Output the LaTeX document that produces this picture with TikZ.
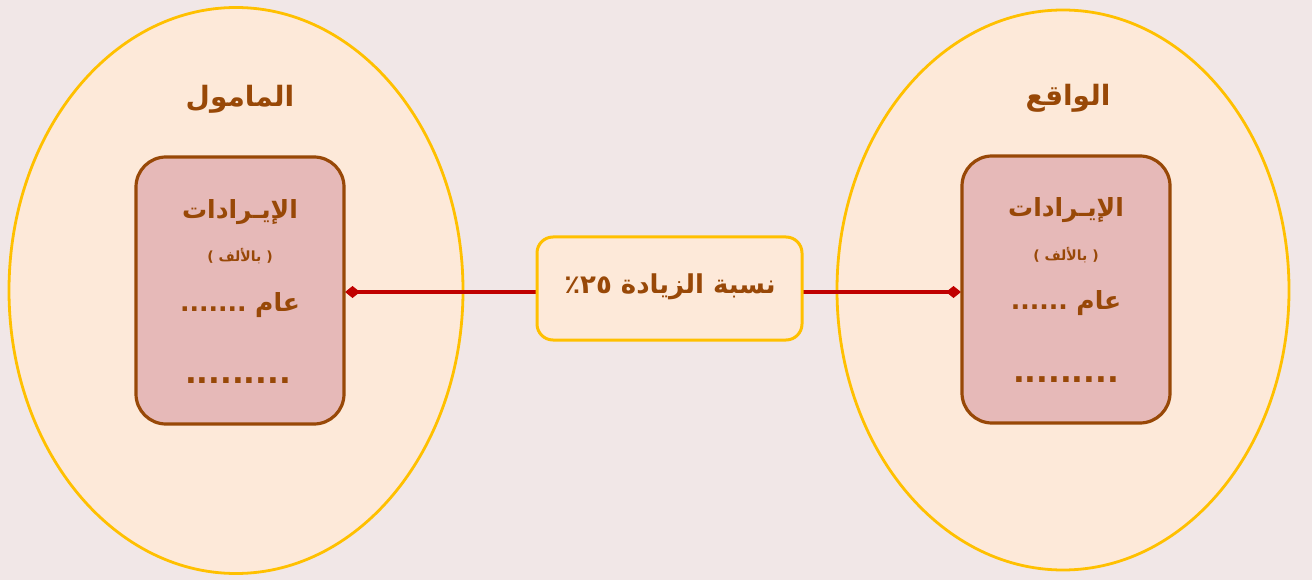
\documentclass[tikz,border=0pt]{standalone}
\usepackage{fontspec}
\usetikzlibrary{shapes.geometric,arrows.meta}
\TeXXeTstate=1
\newfontfamily\arabicfont[Script=Arabic]{DejaVu Sans}
\definecolor{bgc}{HTML}{F1E7E7}
\definecolor{ellfill}{HTML}{FDE9D9}
\definecolor{ellline}{HTML}{FFC000}
\definecolor{recfill}{HTML}{E6B9B8}
\definecolor{brown}{HTML}{984807}
\definecolor{redline}{HTML}{C00000}
\tikzset{
  oval/.style={ellipse, draw=ellline, fill=ellfill, line width=2.8pt, inner sep=0pt},
  card/.style={rectangle, rounded corners=30pt, draw=brown, fill=recfill, line width=3.2pt, minimum width=208pt, minimum height=267pt, inner sep=0pt},
  midbox/.style={rectangle, rounded corners=16pt, draw=ellline, fill=ellfill, line width=3pt, minimum width=265pt, minimum height=103pt, inner sep=0pt},
  txt/.style={text=brown, inner sep=0pt, font=\arabicfont\bfseries},
  conn/.style={draw=redline, line width=4.2pt, -{Diamond[length=15pt,width=12pt]}},
}
\begin{document}
\begin{tikzpicture}[x=1pt,y=-1pt]
\fill[bgc] (0,0) rectangle (1312,580);
\useasboundingbox (0,0) rectangle (1312,580);
% ellipses
\node[oval, minimum width=454pt, minimum height=566pt] (lo) at (236,290.5) {};
\node[oval, minimum width=452pt, minimum height=560pt] (ro) at (1063,290) {};
% connector end points
\coordinate (lce) at (345,292);
\coordinate (rcw) at (961,292);
\coordinate (mw) at (537,292);
\coordinate (me) at (802,292);
\draw[conn] (mw) -- (lce);
\draw[conn] (me) -- (rcw);
\node[card] (lc) at (240,290.5) {};
\node[card] (rc) at (1066,289.5) {};
\node[midbox] (mid) at (669.5,288.5) {};
% titles
\node[txt, font=\arabicfont\bfseries\fontsize{28}{32}\selectfont] (lt) at (240,99) {\beginR المامول\endR};
\node[txt, font=\arabicfont\bfseries\fontsize{28}{32}\selectfont] (rt) at (1068,98) {\beginR الواقع\endR};
% left card text
\node[txt, font=\arabicfont\bfseries\fontsize{25}{30}\selectfont] (l1) at (240,212) {\beginR الإيـرادات\endR};
\node[txt, font=\arabicfont\bfseries\fontsize{14}{16}\selectfont] (l2) at (240,256) {\beginR( بالألف )\endR};
\node[txt, font=\arabicfont\bfseries\fontsize{25}{30}\selectfont] (l3) at (240,305) {\beginR عام .......\endR};
\node[txt, font=\arabicfont\bfseries\fontsize{31}{36}\selectfont] (l4) at (238,381) {.........};
% right card text
\node[txt, font=\arabicfont\bfseries\fontsize{25}{30}\selectfont] (r1) at (1066,210) {\beginR الإيـرادات\endR};
\node[txt, font=\arabicfont\bfseries\fontsize{14}{16}\selectfont] (r2) at (1066,255) {\beginR( بالألف )\endR};
\node[txt, font=\arabicfont\bfseries\fontsize{25}{30}\selectfont] (r3) at (1066,303) {\beginR عام ......\endR};
\node[txt, font=\arabicfont\bfseries\fontsize{31}{36}\selectfont] (r4) at (1066,380) {.........};
% middle text
\node[txt, font=\arabicfont\bfseries\fontsize{26}{30}\selectfont] (mt) at (670,287) {\beginR نسبة الزيادة \beginL٢٥\endL٪\endR};
\end{tikzpicture}
\end{document}
